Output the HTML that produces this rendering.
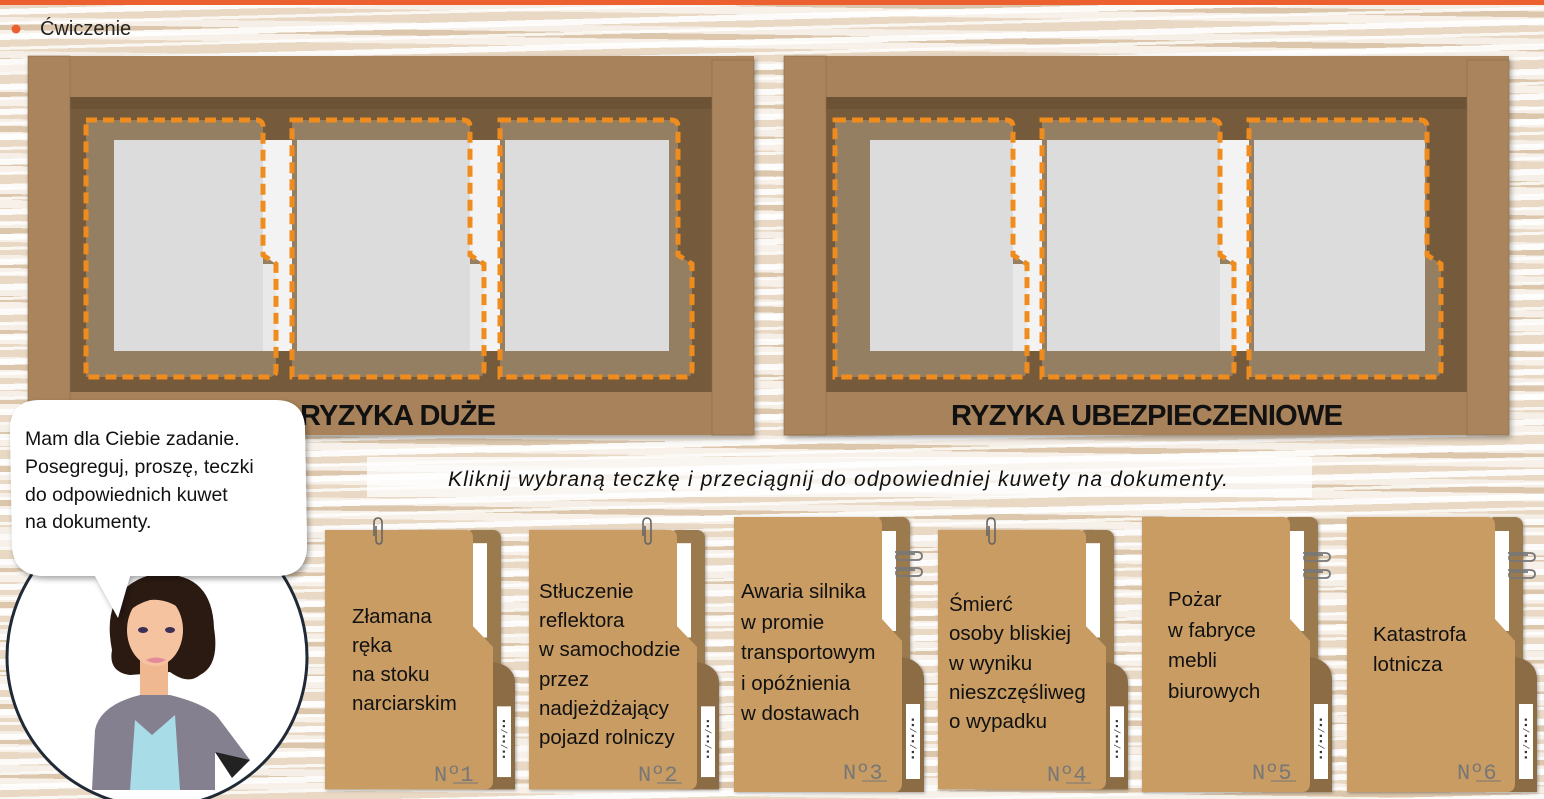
<!DOCTYPE html>
<html><head><meta charset="utf-8">
<style>
html,body{margin:0;padding:0;}
body{width:1544px;height:799px;overflow:hidden;position:relative;font-family:"Liberation Sans","DejaVu Sans",sans-serif;
background:
repeating-linear-gradient(178.5deg, rgba(255,255,255,0) 0px, rgba(255,255,255,0) 9px, rgba(255,255,255,0.9) 9px, rgba(255,255,255,0.9) 15px, rgba(255,255,255,0) 15px, rgba(255,255,255,0) 22px, rgba(255,255,255,0.8) 22px, rgba(255,255,255,0.8) 25px),
repeating-linear-gradient(0.8deg, #e8d8c4 0px, #e8d8c4 13px, #f7f1ea 13px, #f7f1ea 21px, #dcc7ac 21px, #dcc7ac 27px, #f5efe7 27px, #f5efe7 34px);
}
svg{position:absolute;left:0;top:0;}
</style></head><body>
<svg width="1544" height="799" viewBox="0 0 1544 799" xmlns="http://www.w3.org/2000/svg">
<defs>
<filter id="sh" x="-10%" y="-10%" width="130%" height="130%"><feDropShadow dx="2" dy="3" stdDeviation="3" flood-color="#000" flood-opacity="0.35"/></filter>
<filter id="sh2" x="-10%" y="-10%" width="130%" height="130%"><feDropShadow dx="1" dy="1" stdDeviation="1.5" flood-color="#000" flood-opacity="0.35"/></filter>
<g id="folder">
  <rect x="140" y="0" width="36" height="275" rx="8" fill="#9b7a4d"/>
  <rect x="147" y="14" width="15" height="100" fill="#ffffff"/>
  <path d="M150,135 L176,142 Q190,148 190,162 V275 H150 Z" fill="#8c6c44"/>
  <path d="M0,0 H140 Q148,0 148,8 V102 L168,124 V266 Q168,275 160,275 H0 Z" fill="#c89c64"/>
  <rect x="172" y="187" width="14" height="75" fill="#ffffff"/>
  <text transform="translate(176,200) rotate(90)" font-family="Liberation Mono,monospace" font-size="9" fill="#333">▪▪/▪▪/▪▪</text>
</g>
<g id="clipV"><path d="M0,16 V3 Q0,-2 4,-2 Q8,-2 8,3 V20 Q8,24 5,24 Q2,24 2,20 V6" fill="none" stroke="#666" stroke-width="1.6"/></g>
<g id="clipH"><path d="M0,0 H22 Q27,0 27,4 Q27,8 22,8 H4 Q1,8 1,5 Q1,2 4,2 H20" fill="none" stroke="#777" stroke-width="1.8"/></g>
</defs>

<rect x="0" y="0" width="1544" height="5" fill="#ec5f2f"/>
<circle cx="16" cy="29" r="4.5" fill="#ec5f2f"/>
<text x="40" y="35" font-size="20" fill="#222">Ćwiczenie</text>

<!-- TRAY 1 -->
<g filter="url(#sh)">
<rect x="28" y="56" width="726" height="379" fill="#a7825a"/>
</g>
<rect x="70" y="97" width="642" height="295" fill="#755a3c"/>
<rect x="70" y="97" width="642" height="12" fill="#6d5336"/>
<rect x="28" y="56" width="42" height="379" fill="#a9845c" stroke="#8e6d48" stroke-width="0.6"/>
<rect x="712" y="60" width="42" height="375" fill="#a9845c" stroke="#8e6d48" stroke-width="0.6"/>
<rect x="114" y="140" width="555" height="211" fill="#f3f3f3"/>

<!-- TRAY 2 -->
<g filter="url(#sh)">
<rect x="784" y="56" width="725" height="379" fill="#a7825a"/>
</g>
<rect x="826" y="97" width="641" height="295" fill="#755a3c"/>
<rect x="826" y="97" width="641" height="12" fill="#6d5336"/>
<rect x="784" y="56" width="42" height="379" fill="#a9845c" stroke="#8e6d48" stroke-width="0.6"/>
<rect x="1467" y="60" width="42" height="375" fill="#a9845c" stroke="#8e6d48" stroke-width="0.6"/>
<rect x="870" y="140" width="555" height="211" fill="#f3f3f3"/>

<g fill="#957f63">
<path d="M86,120 H256 Q263,120 263,127 V255 L276,264 V370 Q276,377 269,377 H86 Z"/>
<path d="M292,120 H463 Q470,120 470,127 V255 L484,264 V370 Q484,377 477,377 H292 Z"/>
<path d="M500,120 H671 Q678,120 678,127 V255 L692,264 V370 Q692,377 685,377 H500 Z"/>
<path d="M835,120 H1006 Q1013,120 1013,127 V255 L1027,264 V370 Q1027,377 1020,377 H835 Z"/>
<path d="M1042,120 H1213 Q1220,120 1220,127 V255 L1234,264 V370 Q1234,377 1227,377 H1042 Z"/>
<path d="M1249,120 H1420 Q1427,120 1427,127 V255 L1441,264 V370 Q1441,377 1434,377 H1249 Z"/>
</g>
<g fill="#dcdcdc">
<rect x="114" y="140" width="149" height="211"/>
<rect x="297" y="140" width="173" height="211"/>
<rect x="505" y="140" width="164" height="211"/>
<rect x="870" y="140" width="143" height="211"/>
<rect x="1047" y="140" width="173" height="211"/>
<rect x="1254" y="140" width="171" height="211"/>
</g>
<g fill="#e9e9e9">
<rect x="263" y="264" width="13" height="87"/>
<rect x="470" y="264" width="14" height="87"/>
<rect x="1013" y="264" width="14" height="87"/>
<rect x="1220" y="264" width="14" height="87"/>
</g>
<g fill="none" stroke="#f08c1e" stroke-width="5" stroke-dasharray="11,6">
<path d="M86,120 H256 Q263,120 263,127 V255 L276,264 V370 Q276,377 269,377 H86 Z"/>
<path d="M292,120 H463 Q470,120 470,127 V255 L484,264 V370 Q484,377 477,377 H292 Z"/>
<path d="M500,120 H671 Q678,120 678,127 V255 L692,264 V370 Q692,377 685,377 H500 Z"/>
<path d="M835,120 H1006 Q1013,120 1013,127 V255 L1027,264 V370 Q1027,377 1020,377 H835 Z"/>
<path d="M1042,120 H1213 Q1220,120 1220,127 V255 L1234,264 V370 Q1234,377 1227,377 H1042 Z"/>
<path d="M1249,120 H1420 Q1427,120 1427,127 V255 L1441,264 V370 Q1441,377 1434,377 H1249 Z"/>
</g>

<text x="398" y="425" text-anchor="middle" font-size="29" font-weight="bold" fill="#111" textLength="196">RYZYKA DUŻE</text>
<text x="1147" y="425" text-anchor="middle" font-size="29" font-weight="bold" fill="#111" textLength="392">RYZYKA UBEZPIECZENIOWE</text>

<rect x="367" y="457" width="945" height="40" fill="#ffffff" fill-opacity="0.75"/>
<text x="838" y="486" text-anchor="middle" font-size="21" font-style="italic" fill="#111" textLength="780">Kliknij wybraną teczkę i przeciągnij do odpowiedniej kuwety na dokumenty.</text>

<circle cx="157" cy="657" r="150" fill="#ffffff" stroke="#1f2a36" stroke-width="3"/>
<g>
  <path d="M112,650 Q100,590 150,575 Q212,568 214,628 Q220,665 200,675 Q188,685 170,672 L130,675 Q108,672 112,650 Z" fill="#2a1a12"/>
  <rect x="140" y="660" width="28" height="40" fill="#f0b890"/>
  <path d="M92,790 L95,730 Q100,705 140,695 L170,695 Q210,705 220,720 L250,760 L232,775 L215,752 L215,790 Z" fill="#84808f"/>
  <path d="M130,790 L135,720 L152,735 L175,715 L180,790 Z" fill="#a8dce6"/>
  <path d="M215,752 L250,760 L232,778 Z" fill="#222"/>
  <ellipse cx="155" cy="630" rx="28" ry="36" fill="#f6c3a0"/>
  <path d="M125,615 Q132,582 160,582 Q190,586 188,615 Q170,598 150,600 Q135,604 125,615 Z" fill="#2a1a12"/>
  <ellipse cx="143" cy="630" rx="5" ry="3" fill="#3b2f55"/>
  <ellipse cx="170" cy="630" rx="5" ry="3" fill="#3b2f55"/>
  <path d="M146,660 Q156,655 166,660 Q156,666 146,660 Z" fill="#e58a9a"/>
</g>

<g filter="url(#sh)">
<path d="M40,400 H275 Q305,400 305,430 L307,545 Q307,575 278,576 H130 L118,618 L95,576 H45 Q13,576 12,545 L10,430 Q10,400 40,400 Z" fill="#ffffff"/>
</g>
<g font-size="19.5" fill="#111">
<text x="25" y="445">Mam dla Ciebie zadanie.</text>
<text x="25" y="473">Posegreguj, proszę, teczki</text>
<text x="25" y="501">do odpowiednich kuwet</text>
<text x="25" y="528">na dokumenty.</text>
</g>

<g filter="url(#sh2)">
<use href="#folder" transform="translate(325,530) scale(1,0.943)"/>
<use href="#folder" transform="translate(529,530) scale(1,0.943)"/>
<use href="#folder" transform="translate(734,517)"/>
<use href="#folder" transform="translate(938,530) scale(1,0.943)"/>
<use href="#folder" transform="translate(1142,517)"/>
<use href="#folder" transform="translate(1347,517)"/>
</g>
<use href="#clipV" transform="translate(374,520)"/>
<use href="#clipV" transform="translate(643,520)"/>
<use href="#clipV" transform="translate(987,520)"/>
<use href="#clipH" transform="translate(895,552)"/>
<use href="#clipH" transform="translate(895,568)"/>
<use href="#clipH" transform="translate(1303,553)"/>
<use href="#clipH" transform="translate(1303,570)"/>
<use href="#clipH" transform="translate(1508,553)"/>
<use href="#clipH" transform="translate(1508,570)"/>

<g font-size="20.5" fill="#111">
<text x="352" y="623">Złamana</text>
<text x="352" y="652">ręka</text>
<text x="352" y="681">na stoku</text>
<text x="352" y="710">narciarskim</text>

<text x="539" y="598">Stłuczenie</text>
<text x="539" y="627">reflektora</text>
<text x="539" y="656">w samochodzie</text>
<text x="539" y="686">przez</text>
<text x="539" y="715">nadjeżdżający</text>
<text x="539" y="744">pojazd rolniczy</text>

<text x="741" y="598">Awaria silnika</text>
<text x="741" y="629">w promie</text>
<text x="741" y="659">transportowym</text>
<text x="741" y="690">i opóźnienia</text>
<text x="741" y="720">w dostawach</text>

<text x="949" y="611">Śmierć</text>
<text x="949" y="640">osoby bliskiej</text>
<text x="949" y="670">w wyniku</text>
<text x="949" y="699">nieszczęśliweg</text>
<text x="949" y="728">o wypadku</text>

<text x="1168" y="606">Pożar</text>
<text x="1168" y="637">w fabryce</text>
<text x="1168" y="667">mebli</text>
<text x="1168" y="698">biurowych</text>

<text x="1373" y="641">Katastrofa</text>
<text x="1373" y="671">lotnicza</text>
</g>

<g font-family="Liberation Mono,monospace" font-size="22" fill="#777">
<text x="434" y="781">Nº1</text>
<text x="638" y="781">Nº2</text>
<text x="843" y="779">Nº3</text>
<text x="1047" y="781">Nº4</text>
<text x="1252" y="779">Nº5</text>
<text x="1457" y="779">Nº6</text>
</g>
<g stroke="#777" stroke-width="1">
<line x1="453" y1="783" x2="478" y2="783"/>
<line x1="657" y1="783" x2="682" y2="783"/>
<line x1="862" y1="781" x2="887" y2="781"/>
<line x1="1066" y1="783" x2="1091" y2="783"/>
<line x1="1271" y1="781" x2="1296" y2="781"/>
<line x1="1476" y1="781" x2="1501" y2="781"/>
</g>
</svg>
</body></html>
